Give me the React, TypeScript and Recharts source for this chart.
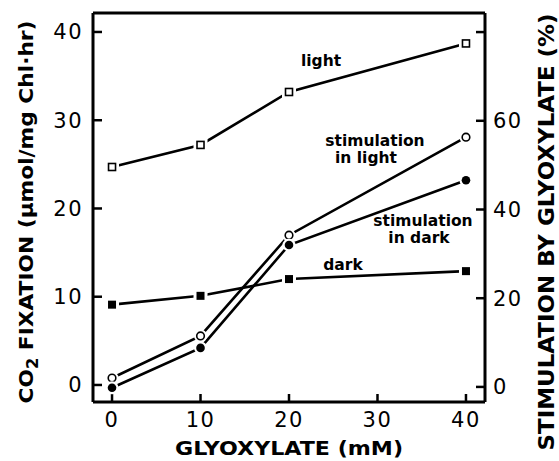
import React from "react"
import { LineChart, Line, XAxis, YAxis } from "recharts"

// glyoxylate concentration (mM)
const glyoxylate = [0, 10, 20, 40]
// CO2 fixation, µmol/mg Chl·hr (left axis)
const lightFix = [24.7, 27.2, 33.2, 38.7]
const darkFix = [9.1, 10.1, 12.0, 12.9]
// stimulation by glyoxylate, % (right axis)
const stimLight = [2.0, 11.5, 34.2, 56.3]
const stimDark = [-0.2, 8.8, 32.0, 46.6]

const xTicks = [0, 10, 20, 30, 40]
const leftTicks = [0, 10, 20, 30, 40]
const rightTicks = [0, 20, 40, 60, 80]

const data = glyoxylate.map((x, i) => ({
  x,
  light: lightFix[i],
  dark: darkFix[i],
  stimLight: stimLight[i],
  stimDark: stimDark[i],
}))

const W = 559
const H = 461
const FONT = "'DejaVu Sans', sans-serif"

const tickStyle = { fontSize: 21, fill: "#000", fontFamily: FONT, letterSpacing: 1.5 }
const axisLine = { stroke: "#000", strokeWidth: 3 }
const tickLine = { stroke: "#000", strokeWidth: 2.5 }

function OpenSquare({ cx, cy }: any) {
  if (cx == null || cy == null) return null
  return (
    <g>
      <rect x={cx - 7} y={cy - 7} width={14} height={14} fill="#fff" />
      <rect x={cx - 3.5} y={cy - 3.5} width={7} height={7} fill="#fff" stroke="#000" strokeWidth={1.6} />
    </g>
  )
}

function FilledSquare({ cx, cy }: any) {
  if (cx == null || cy == null) return null
  return (
    <g>
      <rect x={cx - 7} y={cy - 7} width={14} height={14} fill="#fff" />
      <rect x={cx - 4} y={cy - 4} width={8} height={8} fill="#000" />
    </g>
  )
}

function OpenCircle({ cx, cy }: any) {
  if (cx == null || cy == null) return null
  return (
    <g>
      <circle cx={cx} cy={cy} r={6.5} fill="#fff" />
      <circle cx={cx} cy={cy} r={3.8} fill="#fff" stroke="#000" strokeWidth={1.6} />
    </g>
  )
}

function FilledCircle({ cx, cy }: any) {
  if (cx == null || cy == null) return null
  return (
    <g>
      <circle cx={cx} cy={cy} r={6.5} fill="#fff" />
      <circle cx={cx} cy={cy} r={4.3} fill="#000" />
    </g>
  )
}

export default function App() {
  return (
    <div style={{ position: "absolute", left: 0, top: 0, width: W, height: H, background: "#fff" }}>
      <LineChart width={W} height={H} data={data} margin={{ top: 0, right: 0, bottom: 0, left: 0 }}>
        <XAxis
          dataKey="x"
          type="number"
          domain={[-2.15, 42.15]}
          allowDataOverflow
          ticks={xTicks}
          height={59}
          axisLine={axisLine}
          tickLine={tickLine}
          tickSize={-8}
          tickMargin={18}
          tick={tickStyle}
        />
        <XAxis
          xAxisId="top"
          orientation="top"
          dataKey="x"
          type="number"
          domain={[-2.15, 42.15]}
          allowDataOverflow
          ticks={xTicks}
          height={13}
          axisLine={axisLine}
          tickLine={tickLine}
          tickSize={-8}
          tick={false}
        />
        <YAxis
          yAxisId="left"
          type="number"
          domain={[-1.93, 42.15]}
          allowDataOverflow
          ticks={leftTicks}
          width={93}
          axisLine={axisLine}
          tickLine={tickLine}
          tickSize={-9}
          tickMargin={19}
          tick={tickStyle}
        />
        <YAxis
          yAxisId="right"
          orientation="right"
          type="number"
          domain={[-3.4, 84.3]}
          allowDataOverflow
          ticks={rightTicks}
          tickFormatter={(v) => (v === 80 ? "" : String(v))}
          width={74}
          axisLine={axisLine}
          tickLine={tickLine}
          tickSize={-9}
          tickMargin={17}
          tick={tickStyle}
        />
        <Line yAxisId="left" dataKey="light" type="linear" stroke="#000" strokeWidth={2.6} dot={<OpenSquare />} activeDot={false} isAnimationActive={false} />
        <Line yAxisId="left" dataKey="dark" type="linear" stroke="#000" strokeWidth={2.6} dot={<FilledSquare />} activeDot={false} isAnimationActive={false} />
        <Line yAxisId="right" dataKey="stimLight" type="linear" stroke="#000" strokeWidth={2.6} dot={<OpenCircle />} activeDot={false} isAnimationActive={false} />
        <Line yAxisId="right" dataKey="stimDark" type="linear" stroke="#000" strokeWidth={2.6} dot={<FilledCircle />} activeDot={false} isAnimationActive={false} />
      </LineChart>

      {/* annotations and axis titles */}
      <svg width={W} height={H} style={{ position: "absolute", left: 0, top: 0, pointerEvents: "none" }}>
        <g fontFamily={FONT} fontWeight="bold" fill="#000" fontSize={15.5} textAnchor="middle">
          <text x={321} y={66}>light</text>
          <text x={375} y={146}>stimulation</text>
          <text x={366} y={163}>in light</text>
          <text x={423} y={226}>stimulation</text>
          <text x={419} y={243}>in dark</text>
          <text x={343} y={270}>dark</text>
        </g>
        <text x={289} y={455} fontFamily={FONT} fontWeight="bold" fontSize={20} textAnchor="middle" textLength={228} lengthAdjust="spacingAndGlyphs">
          GLYOXYLATE (mM)
        </text>
        <text
          transform="translate(33 212) rotate(-90)"
          fontFamily={FONT}
          fontWeight="bold"
          fontSize={20}
          textAnchor="middle"
          textLength={383}
          lengthAdjust="spacingAndGlyphs"
        >
          CO<tspan fontSize={15} dy={5}>2</tspan>
          <tspan dy={-5}> FIXATION (µmol/mg Chl·hr)</tspan>
        </text>
        <text
          transform="translate(554 232) rotate(-90)"
          fontFamily={FONT}
          fontWeight="bold"
          fontSize={21}
          textAnchor="middle"
          textLength={437}
          lengthAdjust="spacingAndGlyphs"
        >
          STIMULATION BY GLYOXYLATE (%)
        </text>
      </svg>
    </div>
  )
}
